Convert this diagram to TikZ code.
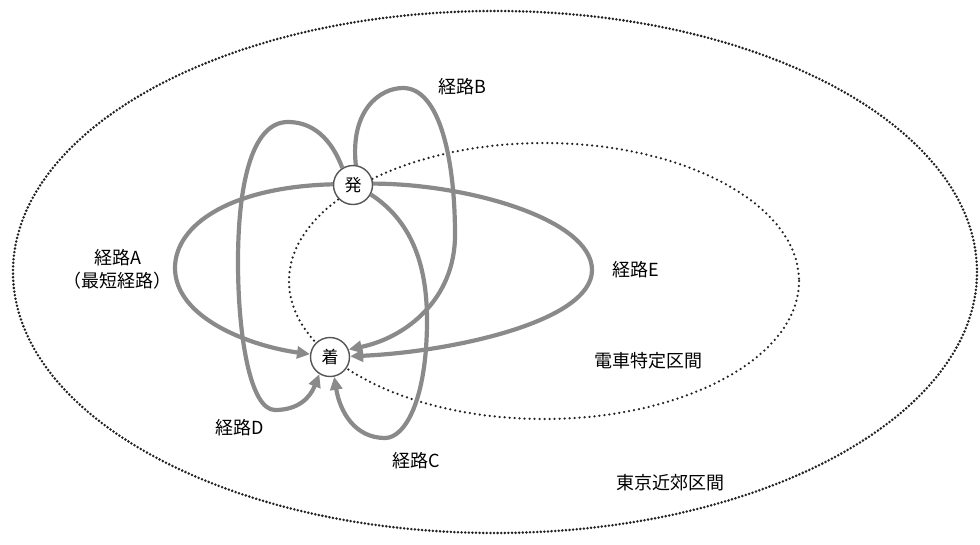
\documentclass[tikz,border=0pt]{standalone}
\usepackage{fontspec}
\setmainfont{Noto Sans CJK JP}
\usetikzlibrary{arrows.meta}
\definecolor{routegray}{HTML}{8A8A8A}
\definecolor{dotgray}{HTML}{222222}
\definecolor{ringgray}{HTML}{555555}
\tikzset{
  route/.style={draw=routegray, line width=4.2pt, -{Triangle[length=13pt,width=12pt]}},
  station/.style={circle, draw=ringgray, line width=1.4pt, fill=white, minimum size=39pt, inner sep=0pt, font=\fontsize{17}{20}\selectfont},
  outerzone/.style={draw=dotgray, line width=2.8pt, line cap=round, dash pattern=on 0pt off 3.6pt},
  innerzone/.style={draw=dotgray, line width=2.5pt, line cap=round, dash pattern=on 0pt off 5pt},
  lbl/.style={font=\fontsize{18}{22}\selectfont, text=black, inner sep=0pt, align=center}
}
\begin{document}
\begin{tikzpicture}[x=1pt,y=-1pt]
  \useasboundingbox (0,0) rectangle (980,544);
  % zones
  \draw[outerzone] (495,272) ellipse [x radius=482, y radius=261];
  \draw[innerzone] (544,281) ellipse [x radius=255, y radius=138];
  % stations
  \node[station] (hatsu) at (353,185) {発};
  \node[station] (chaku) at (330,357) {着};
  % routes
  % A
  \draw[route] (hatsu.178) .. controls (230,187) and (175,225) .. (175,268)
      .. controls (175,318) and (250,346) .. (chaku.172);
  % E
  \draw[route] (hatsu.4) .. controls (470,184) and (592,220) .. (592,270)
      .. controls (592,322) and (450,352) .. (chaku.2);
  % B
  \draw[route] (hatsu.82) .. controls (350,110) and (380,88) .. (403,88)
      .. controls (440,88) and (455,160) .. (455,235)
      .. controls (455,300) and (405,338) .. (chaku.22);
  % D
  \draw[route] (hatsu.122) .. controls (328,130) and (305,122) .. (288,122)
      .. controls (250,122) and (238,190) .. (238,262)
      .. controls (238,335) and (250,410) .. (275,410)
      .. controls (298,410) and (310,398) .. (chaku.-122);
  % C
  \draw[route] (hatsu.-28) .. controls (410,220) and (427,262) .. (427,320)
      .. controls (427,400) and (405,438) .. (385,438)
      .. controls (355,438) and (340,412) .. (chaku.-78);
  % labels
  \node[lbl] (lblB) at (462,87) {経路B};
  \node[lbl] (lblA) at (118,258) {経路A};
  \node[lbl] (lblA2) at (117,281) {（最短経路）};
  \node[lbl] (lblE) at (636,270) {経路E};
  \node[lbl] (lblInner) at (648,361) {電車特定区間};
  \node[lbl] (lblD) at (240,428) {経路D};
  \node[lbl] (lblC) at (416,461) {経路C};
  \node[lbl] (lblOuter) at (670,483) {東京近郊区間};
\end{tikzpicture}
\end{document}
